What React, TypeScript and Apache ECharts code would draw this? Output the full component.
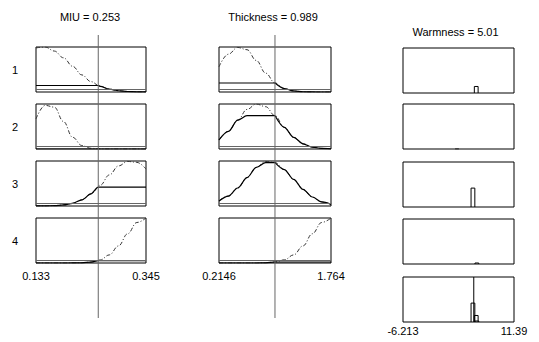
import React, { useEffect, useRef } from 'react';
import * as echarts from 'echarts';

// ---- data ----
const miuTitle = 'MIU = 0.253';
const miuRange = [0.133, 0.345];
const miuTickLabels = ['0.133', '0.345'];
const miuInput = 0.253;

const thickTitle = 'Thickness = 0.989';
const thickRange = [0.2146, 1.764];
const thickTickLabels = ['0.2146', '1.764'];
const thickInput = 0.989;

const warmTitle = 'Warmness = 5.01';
const warmRange = [-6.213, 11.39];
const warmTickLabels = ['-6.213', '11.39'];
const warmOutput = 5.01;

const ruleLabels = ['1', '2', '3', '4'];

// membership values sampled at 13 evenly spaced points across each input range
const miuMF1 = [0.98, 1.0, 0.91, 0.76, 0.57, 0.38, 0.23, 0.127, 0.063, 0.028, 0.011, 0.004, 0.001];
const miuMF2 = [0.67, 0.97, 0.93, 0.61, 0.26, 0.078, 0.015, 0.002, 0, 0, 0, 0, 0];
const miuMF3 = [0.001, 0.002, 0.008, 0.023, 0.06, 0.137, 0.27, 0.46, 0.69, 0.89, 0.99, 0.97, 0.82];
const miuMF4 = [0, 0, 0, 0, 0.001, 0.005, 0.02, 0.067, 0.18, 0.38, 0.65, 0.9, 1.0];
const miuLevels = [0.145, 0.0, 0.42, 0.053];

const thickMF1 = [0.56, 0.84, 0.99, 0.94, 0.7, 0.42, 0.2, 0.076, 0.023, 0.0055, 0.001, 0, 0];
const thickMF2 = [0.2, 0.39, 0.64, 0.88, 1.0, 0.94, 0.74, 0.48, 0.26, 0.116, 0.043, 0.013, 0.003];
const thickMF3 = [0.11, 0.22, 0.4, 0.63, 0.86, 0.99, 0.965, 0.81, 0.59, 0.37, 0.2, 0.09, 0.037];
const thickMF4 = [0, 0, 0, 0, 0, 0.005, 0.022, 0.07, 0.18, 0.38, 0.65, 0.9, 1.0];
const thickLevels = [0.2, 0.74, 0.965, 0.022];

const ruleOutputs = [5.4, 2.35, 4.88, 5.5];

// ---- layout / style ----
const FONT = 'Liberation Sans, Arial, sans-serif';
const colLeft = [36, 219, 403];
const colWidth = [110, 112, 111];
const inputTops = [47, 104, 161, 218];
const outTops = [48, 104, 162, 219, 277];
const boxH = 45;
const barHalf = 0.3;

const sampleXs = (range: number[], n: number) =>
  Array.from({ length: n }, (_, i) => range[0] + ((range[1] - range[0]) * i) / (n - 1));

function buildOption() {
  const grid: any[] = [];
  const xAxis: any[] = [];
  const yAxis: any[] = [];
  const series: any[] = [];

  const addGrid = (
    left: number, top: number, width: number, height: number, range: number[],
    o: { border?: boolean; labels?: string[]; labelMargin?: number; name?: string }
  ) => {
    const idx = grid.length;
    grid.push({
      left, top, width, height,
      show: !!o.border,
      borderColor: '#000',
      borderWidth: 1,
      backgroundColor: 'transparent',
    });
    const [mn, mx] = range;
    xAxis.push({
      gridIndex: idx,
      type: 'value',
      min: mn,
      max: mx,
      interval: mx - mn,
      show: !!o.labels,
      axisLine: { show: false },
      axisTick: { show: false },
      splitLine: { show: false },
      axisLabel: o.labels
        ? {
            show: true,
            customValues: [mn, mx],
            showMinLabel: true,
            showMaxLabel: true,
            margin: o.labelMargin ?? 6,
            fontSize: 11,
            fontFamily: FONT,
            color: '#000',
            formatter: (v: number) =>
              Math.abs(v - mn) < 1e-9 ? o.labels![0] : Math.abs(v - mx) < 1e-9 ? o.labels![1] : '',
          }
        : { show: false },
    });
    yAxis.push({
      gridIndex: idx,
      type: 'value',
      min: 0,
      max: 1,
      show: !!o.name,
      name: o.name || '',
      nameLocation: 'middle',
      nameRotate: 0,
      nameGap: 18,
      nameTextStyle: { fontSize: 11, fontFamily: FONT, color: '#000' },
      axisLine: { show: false },
      axisTick: { show: false },
      axisLabel: { show: false },
      splitLine: { show: false },
    });
    return idx;
  };

  const inputCols = [
    { range: miuRange, input: miuInput, mfs: [miuMF1, miuMF2, miuMF3, miuMF4], levels: miuLevels, labels: miuTickLabels },
    { range: thickRange, input: thickInput, mfs: [thickMF1, thickMF2, thickMF3, thickMF4], levels: thickLevels, labels: thickTickLabels },
  ];

  inputCols.forEach((col, c) => {
    col.mfs.forEach((mf, r) => {
      const g = addGrid(colLeft[c], inputTops[r], colWidth[c], boxH, col.range, {
        border: true,
        labels: r === col.mfs.length - 1 ? col.labels : undefined,
        labelMargin: 7,
        name: c === 0 ? ruleLabels[r] : undefined,
      });
      const xs = sampleXs(col.range, mf.length);
      const level = col.levels[r];
      series.push({
        type: 'line',
        xAxisIndex: g,
        yAxisIndex: g,
        data: xs.map((x, i) => [x, mf[i]]),
        showSymbol: false,
        symbol: 'none',
        smooth: 0.4,
        smoothMonotone: 'x',
        silent: true,
        lineStyle: { color: '#333', width: 1, type: [4, 2, 1, 2] },
        markLine: {
          silent: true,
          symbol: 'none',
          label: { show: false },
          lineStyle: { color: '#666', width: 1, type: 'solid' },
          data: [{ yAxis: 0.06 }],
        },
        z: 3,
      });
      const pts: number[][] = xs.map((x, i) => [x, Math.min(mf[i], level)]);
      pts.push([col.input, level]);
      pts.sort((a, b) => a[0] - b[0]);
      series.push({
        type: 'line',
        xAxisIndex: g,
        yAxisIndex: g,
        data: pts,
        showSymbol: false,
        symbol: 'none',
        smooth: 0.3,
        smoothMonotone: 'x',
        silent: true,
        lineStyle: { color: '#000', width: 1.2 },
        z: 4,
      });
    });
    // tall indicator line for the input value
    const gi = addGrid(colLeft[c], 35, colWidth[c], 283, col.range, {});
    series.push({
      type: 'line',
      xAxisIndex: gi,
      yAxisIndex: gi,
      data: [[col.input, 0], [col.input, 1]],
      showSymbol: false,
      symbol: 'none',
      silent: true,
      lineStyle: { color: '#666', width: 1 },
      z: 5,
    });
  });

  // output column
  const strengths = ruleOutputs.map((_, i) => Math.min(miuLevels[i], thickLevels[i]));
  const barOutline = (v: number, h: number) => [
    [v - barHalf, 0], [v - barHalf, h], [v + barHalf, h], [v + barHalf, 0],
  ];
  ruleOutputs.forEach((v, r) => {
    const g = addGrid(colLeft[2], outTops[r], colWidth[2], boxH, warmRange, { border: true });
    series.push({
      type: 'line', xAxisIndex: g, yAxisIndex: g,
      data: barOutline(v, strengths[r]),
      showSymbol: false, symbol: 'none', silent: true,
      lineStyle: { color: '#000', width: 1 }, z: 4,
    });
  });
  const ga = addGrid(colLeft[2], outTops[4], colWidth[2], boxH, warmRange, {
    border: true, labels: warmTickLabels, labelMargin: 3,
  });
  ruleOutputs.forEach((v, r) => {
    if (strengths[r] <= 0) return;
    series.push({
      type: 'line', xAxisIndex: ga, yAxisIndex: ga,
      data: barOutline(v, strengths[r]),
      showSymbol: false, symbol: 'none', silent: true,
      lineStyle: { color: '#000', width: 1 }, z: 4,
    });
  });
  series.push({
    type: 'line', xAxisIndex: ga, yAxisIndex: ga,
    data: [[warmOutput, 0], [warmOutput, 1]],
    showSymbol: false, symbol: 'none', silent: true,
    lineStyle: { color: '#000', width: 1 }, z: 5,
  });

  const titleText = (text: string, x: number, y: number) => ({
    type: 'text',
    x, y,
    style: {
      text,
      fill: '#000',
      fontSize: 11,
      fontFamily: FONT,
      font: `11px ${FONT}`,
      align: 'center',
      verticalAlign: 'middle',
      textAlign: 'center',
      textVerticalAlign: 'middle',
    },
  });

  return {
    animation: false,
    backgroundColor: '#fff',
    grid, xAxis, yAxis, series,
    graphic: [
      titleText(miuTitle, colLeft[0] + colWidth[0] / 2 - 1, 17),
      titleText(thickTitle, colLeft[1] + colWidth[1] / 2 - 2, 17),
      titleText(warmTitle, colLeft[2] + colWidth[2] / 2 - 3, 32),
    ],
  };
}

export default function App() {
  const ref = useRef<HTMLDivElement>(null);
  useEffect(() => {
    document.body.style.margin = '0';
    if (!ref.current) return;
    const chart = echarts.init(ref.current, undefined, { renderer: 'svg' });
    chart.setOption(buildOption() as any);
    return () => chart.dispose();
  }, []);
  return <div ref={ref} style={{ width: 539, height: 342 }} />;
}
